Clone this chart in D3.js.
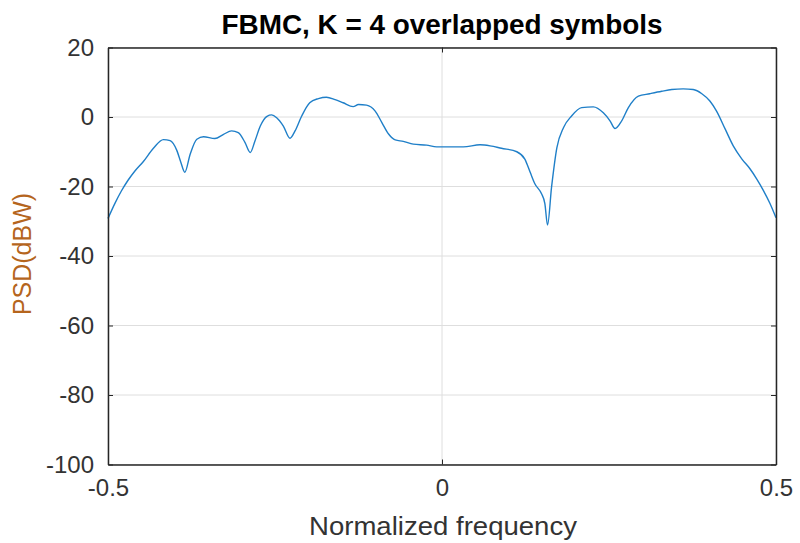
<!DOCTYPE html>
<html><head><meta charset="utf-8">
<script src="https://cdn.jsdelivr.net/npm/d3@7"></script>
<style>body{margin:0;background:#fff}svg{display:block}text{font-family:"Liberation Sans",Arial,Helvetica,sans-serif}</style>
</head><body>
<script>
const freq = [-0.500,-0.490,-0.480,-0.470,-0.460,-0.447,-0.432,-0.417,-0.407,-0.397,-0.391,-0.385,-0.377,-0.367,-0.357,-0.340,-0.327,-0.315,-0.305,-0.295,-0.287,-0.280,-0.272,-0.262,-0.255,-0.2475,-0.2375,-0.2275,-0.220,-0.210,-0.198,-0.185,-0.173,-0.160,-0.148,-0.133,-0.125,-0.113,-0.100,-0.090,-0.080,-0.070,-0.058,-0.043,-0.023,-0.008,0.012,0.032,0.057,0.072,0.089,0.112,0.124,0.132,0.139,0.149,0.154,0.158,0.164,0.172,0.182,0.194,0.209,0.2265,0.2415,0.2515,0.259,0.269,0.279,0.294,0.311,0.329,0.344,0.361,0.376,0.389,0.401,0.411,0.424,0.436,0.449,0.461,0.471,0.481,0.491,0.500];
const psd = [-29.2,-25.0,-21.3,-18.2,-15.6,-12.8,-9.0,-6.5,-6.8,-9.6,-13.0,-15.9,-10.7,-6.4,-5.7,-6.2,-5.0,-4.0,-4.5,-7.3,-10.2,-6.9,-2.6,0.2,0.6,-0.2,-2.6,-6.1,-4.0,0.3,4.1,5.3,5.7,5.0,4.1,3.0,3.6,3.4,1.7,-1.6,-4.9,-6.6,-7.0,-7.8,-8.1,-8.6,-8.6,-8.6,-8.0,-8.3,-9.0,-10.0,-12.1,-15.9,-19.2,-22.1,-24.9,-31.1,-20.2,-8.8,-3.0,0.3,2.7,2.9,1.2,-1.1,-3.3,-1.1,2.7,6.0,6.7,7.4,7.9,8.1,7.9,6.7,4.6,1.7,-3.5,-8.3,-12.1,-14.9,-17.8,-21.1,-24.9,-29.0];
const xTicks = [-0.5, 0, 0.5];
const xTickLabels = ["-0.5", "0", "0.5"];
const yTicks = [-100, -80, -60, -40, -20, 0, 20];
const yTickLabels = ["-100", "-80", "-60", "-40", "-20", "0", "20"];
const title = "FBMC, K = 4 overlapped symbols";
const xLabel = "Normalized frequency";
const yLabel = "PSD(dBW)";

const W = 800, H = 543;
const L = 108, R = 776, T = 47.5, B = 464.5;
const svg = d3.select("body").append("svg").attr("width", W).attr("height", H);
const x = d3.scaleLinear().domain([-0.5, 0.5]).range([L, R]);
const y = d3.scaleLinear().domain([-100, 20]).range([B, T]);
const axisCol = "#262626";

// grid
svg.append("g").selectAll("line").data(yTicks).join("line")
  .attr("x1", L).attr("x2", R).attr("y1", d => y(d)).attr("y2", d => y(d))
  .attr("stroke", "#dedede").attr("stroke-width", 1);
svg.append("g").selectAll("line").data(xTicks).join("line")
  .attr("x1", d => x(d)).attr("x2", d => x(d)).attr("y1", T).attr("y2", B)
  .attr("stroke", "#dedede").attr("stroke-width", 1);

// line
const data = freq.map((f, i) => [f, psd[i]]);
svg.append("path").datum(data)
  .attr("fill", "none").attr("stroke", "#1f7fc8").attr("stroke-width", 1.4)
  .attr("d", d3.line().x(d => x(d[0])).y(d => y(d[1])).curve(d3.curveMonotoneX));

// axes
const gx = svg.append("g").attr("transform", `translate(0,${B})`)
  .call(d3.axisBottom(x).tickValues(xTicks).tickSizeInner(-5).tickSizeOuter(0).tickPadding(14)
    .tickFormat((d, i) => xTickLabels[i]));
const gxt = svg.append("g").attr("transform", `translate(0,${T})`)
  .call(d3.axisTop(x).tickValues(xTicks).tickSizeInner(-5).tickSizeOuter(0).tickFormat(""));
const gy = svg.append("g").attr("transform", `translate(${L},0)`)
  .call(d3.axisLeft(y).tickValues(yTicks).tickSizeInner(-5).tickSizeOuter(0).tickPadding(14)
    .tickFormat((d, i) => yTickLabels[i]));
const gyr = svg.append("g").attr("transform", `translate(${R},0)`)
  .call(d3.axisRight(y).tickValues(yTicks).tickSizeInner(-5).tickSizeOuter(0).tickFormat(""));
[gx, gxt, gy, gyr].forEach(g => {
  g.select(".domain").attr("stroke", axisCol).attr("stroke-width", 1.5);
  g.selectAll(".tick line").attr("stroke", axisCol);
  g.selectAll("text").attr("fill", "#333").attr("font-size", 24)
    .attr("font-family", '"Liberation Sans",Arial,Helvetica,sans-serif');
});
gx.selectAll("text").attr("dy", "0.71em");

// title & labels
svg.append("text").attr("x", (L + R) / 2).attr("y", 34).attr("text-anchor", "middle")
  .attr("font-size", 27).attr("font-weight", "bold").attr("fill", "#000")
  .attr("textLength", 441).attr("lengthAdjust", "spacingAndGlyphs").text(title);
svg.append("text").attr("x", (L + R) / 2 + 1).attr("y", 535).attr("text-anchor", "middle")
  .attr("font-size", 26).attr("fill", "#333")
  .attr("textLength", 268).attr("lengthAdjust", "spacingAndGlyphs").text(xLabel);
svg.append("text").attr("transform", `translate(31,${(T + B) / 2 - 2}) rotate(-90)`).attr("text-anchor", "middle")
  .attr("font-size", 25).attr("fill", "#b5651d").text(yLabel);
</script>
</body></html>
